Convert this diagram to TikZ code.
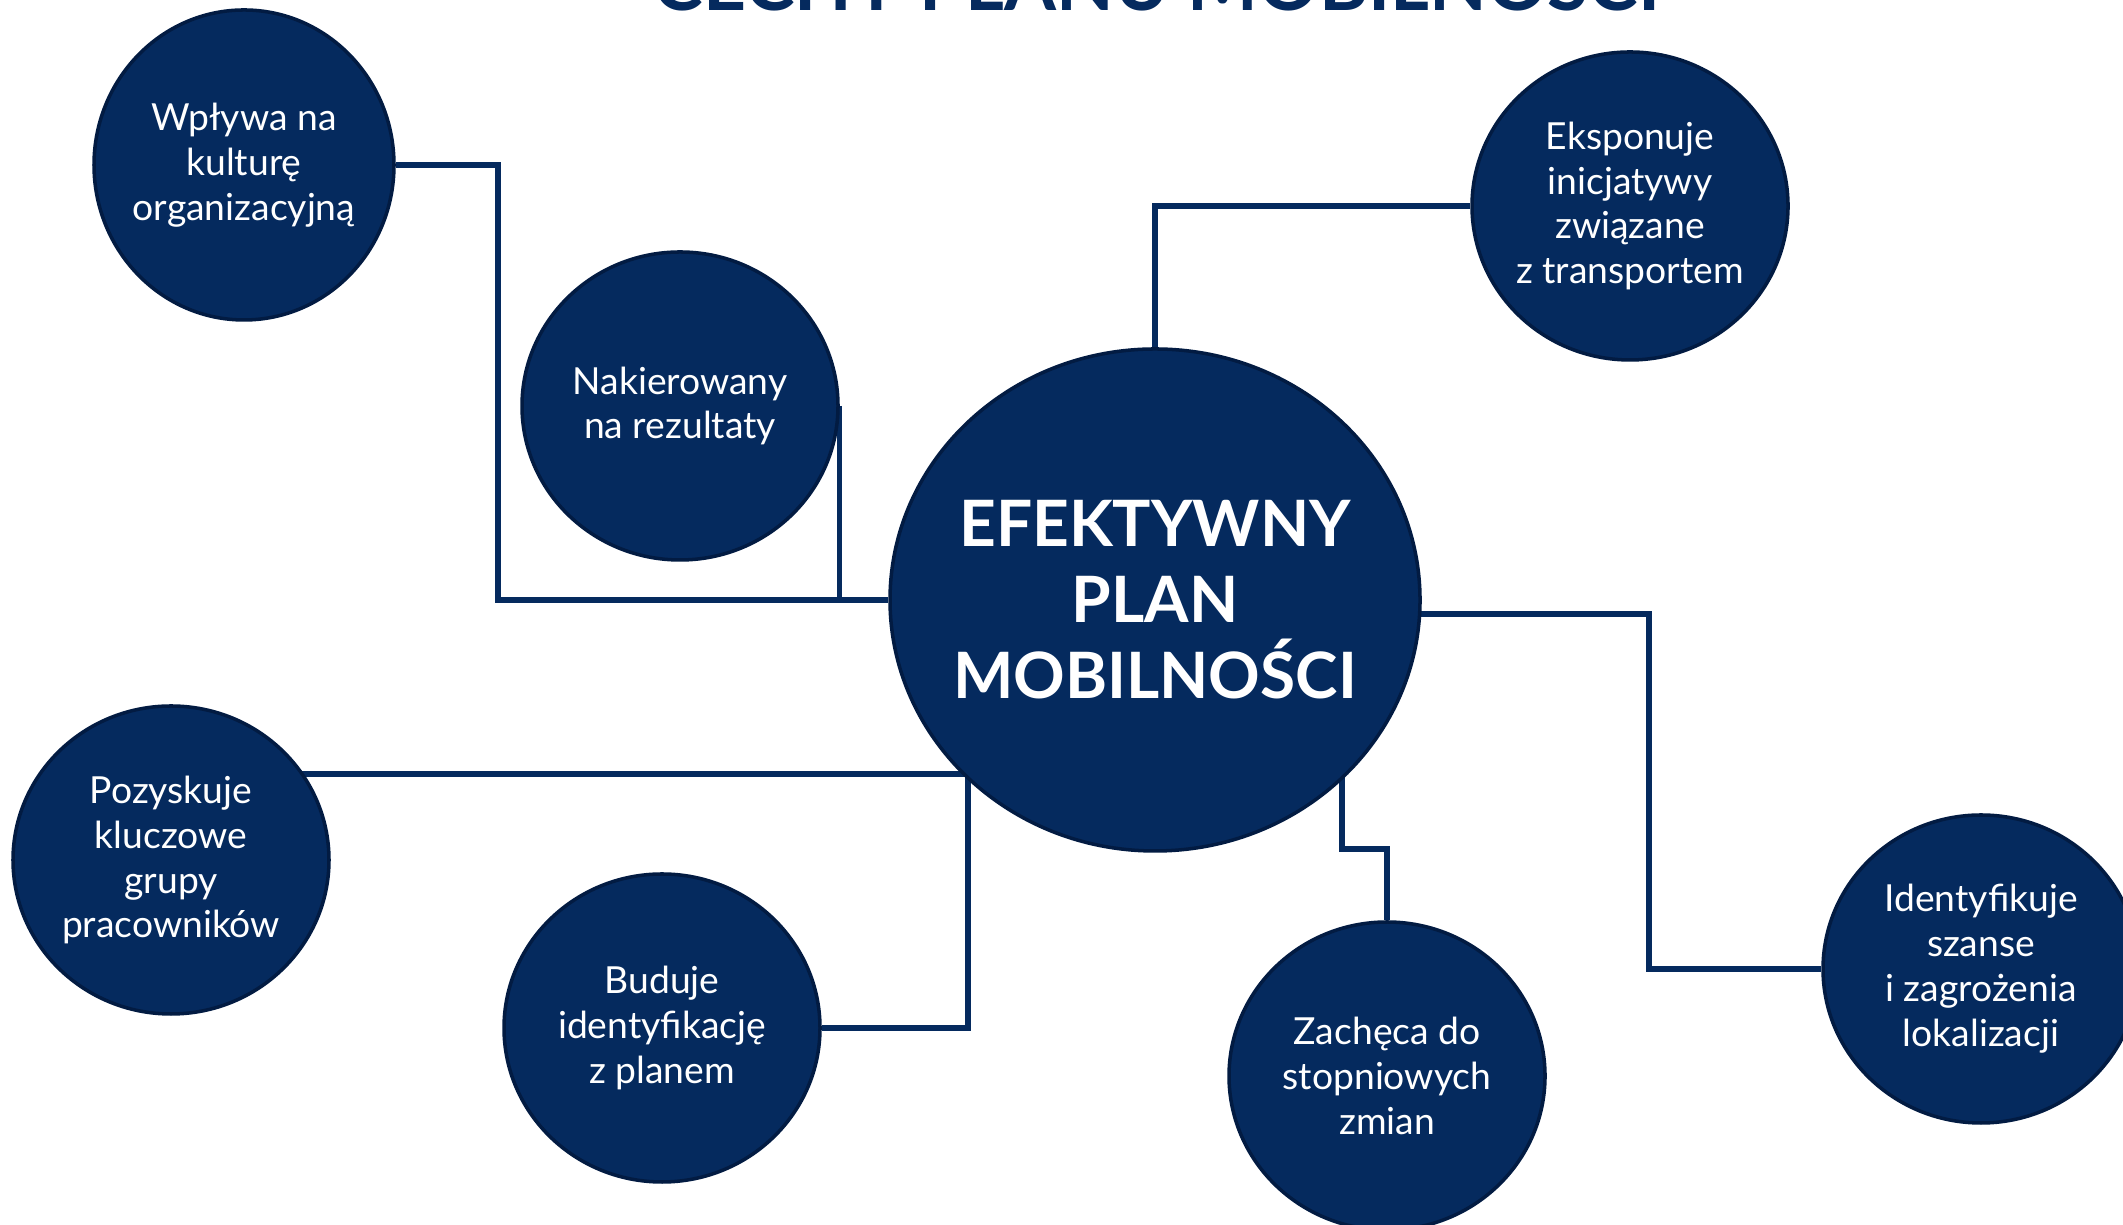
\documentclass[tikz,border=0pt]{standalone}
\usepackage{fontspec}
\setmainfont{Lato}
\usetikzlibrary{shapes.geometric}
\definecolor{granat}{RGB}{5,42,94}
\definecolor{granatkontur}{RGB}{2,27,66}
\pgfdeclarelayer{background}
\pgfsetlayers{background,main}
\tikzset{
	cecha/.style={ellipse, fill=granat, draw=granatkontur, line width=1pt, minimum width=3.16cm, minimum height=3.08cm, inner sep=-0.6cm, align=center, text=white, font=\fontsize{10.6}{12.8}\selectfont},
	rdzen/.style={cecha, minimum width=5.3cm, minimum height=5.02cm, font=\bfseries\fontsize{18.2}{21.6}\selectfont},
	lacznik/.style={draw=granat, line width=1.5pt},
	tytul/.style={anchor=base, text=granat, font=\bfseries\fontsize{21.3}{25}\selectfont}
}

\begin{document}
\begin{tikzpicture}
	\useasboundingbox (0,0) rectangle (21.23,12.25);
	\clip (0,0) rectangle (21.23,12.25);
	\node[tytul] (naglowek) at (11.57,12.14) {CECHY PLANU MOBILNOŚCI};
	
	\node[rdzen] (plan) at (11.55,6.25) {EFEKTYWNY\\PLAN\\MOBILNOŚCI};
	\node[cecha, minimum width=3.0cm, minimum height=3.1cm] (kultura) at (2.44,10.60) {Wpływa na\\kulturę\\organizacyjną};
	\node[cecha] (rezultaty) at (6.80,8.19) {Nakierowany\\na rezultaty};
	\node[cecha] (transport) at (16.30,10.19) {Eksponuje\\inicjatywy\\związane\\z transportem};
	\node[cecha] (grupy) at (1.71,3.65) {Pozyskuje\\kluczowe\\grupy\\pracowników};
	\node[cecha] (identyfikacja) at (6.62,1.97) {Buduje\\identyfikację\\z planem};
	\node[cecha] (zmiany) at (13.87,1.49) {Zachęca do\\stopniowych\\zmian};
	\node[cecha] (lokalizacja) at (19.81,2.56) {Identyfikuje\\szanse\\i zagrożenia\\lokalizacji};
	
	\coordinate (zakretW) at (4.98,0);
	\coordinate (zakretI) at (16.49,0);
	\coordinate (wezelB) at (9.68,4.51);
	\coordinate (zakretZ) at (13.42,3.76);
	\begin{pgfonlayer}{background}
		\draw[lacznik] (kultura) -| (zakretW |- plan) -- (plan);
		\draw[lacznik] (rezultaty.east) -- (rezultaty.east |- plan);
		\draw[lacznik] (transport) -| (plan);
		\draw[lacznik] (plan.-3.5) -| (zakretI |- lokalizacja) -- (lokalizacja);
		\draw[lacznik] (grupy |- wezelB) -- (wezelB);
		\draw[lacznik] (identyfikacja) -| (wezelB);
		\draw[lacznik] (plan -| zakretZ) -- (zakretZ) -| (zmiany);
	\end{pgfonlayer}
\end{tikzpicture}
\end{document}
